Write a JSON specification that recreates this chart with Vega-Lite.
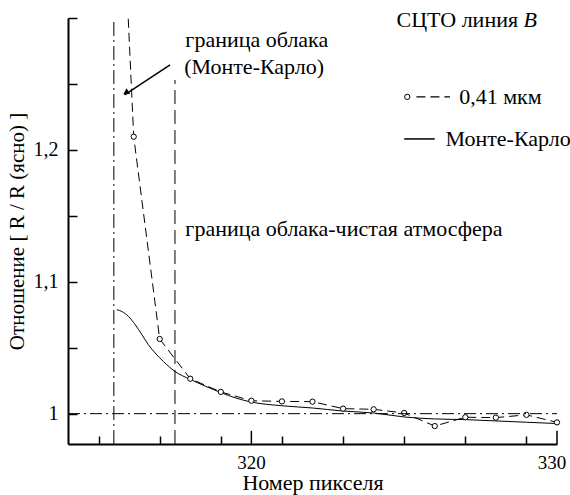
{
  "$schema": "https://vega.github.io/schema/vega-lite/v6.json",
  "width": 489,
  "height": 426,
  "autosize": {"type": "none"},
  "padding": {"left": 68, "top": 18, "right": 13, "bottom": 51},
  "background": "white",
  "view": {"stroke": null},
  "layer": [
    {
      "data": {"values": [
        {"x": 317.84, "y": 1.278, "t": "граница облака"},
        {"x": 317.8, "y": 1.2576, "t": "(Монте-Карло)"},
        {"x": 317.84, "y": 1.1348, "t": "граница облака-чистая атмосфера"},
        {"x": 324.75, "y": 1.2932, "t": "СЦТО линия"}
      ]},
      "mark": {"type": "text", "align": "left", "fontSize": 22, "font": "Times New Roman", "baseline": "alphabetic"},
      "encoding": {
        "x": {"field": "x", "type": "quantitative",
              "scale": {"domain": [314, 330], "nice": false, "zero": false},
              "axis": {"title": "Номер пикселя", "titlePadding": 28, "grid": false, "labels": false,
                       "domainColor": "black", "domainWidth": 2, "tickColor": "black", "tickWidth": 1.5,
                       "titleFont": "Times New Roman", "titleFontSize": 22, "titleFontWeight": "normal", "titleColor": "black",
                       "values": [315,316,317,318,319,320,321,322,323,324,325,326,327,328,329,330],
                       "tickSize": -8}},
        "y": {"field": "y", "type": "quantitative",
              "scale": {"domain": [0.977, 1.3], "nice": false, "zero": false},
              "axis": {"title": "Отношение [ R / R (ясно) ]", "titlePadding": 6, "grid": false,
                       "domainColor": "black", "domainWidth": 2, "tickColor": "black", "tickWidth": 1.5,
                       "labelFont": "Times New Roman", "labelFontSize": 20, "labelColor": "black",
                       "titleFont": "Times New Roman", "titleFontSize": 21, "titleFontWeight": "normal", "titleColor": "black",
                       "values": [1, 1.025, 1.05, 1.075, 1.1, 1.125, 1.15, 1.175, 1.2, 1.225, 1.25, 1.275, 1.3],
                       "labelExpr": "abs(datum.value - 1) < 1e-6 ? '1' : abs(datum.value - 1.1) < 1e-6 ? '1,1' : abs(datum.value - 1.2) < 1e-6 ? '1,2' : ''",
                       "tickSize": -9, "labelPadding": 19}},
        "text": {"field": "t"}
      }
    },
    {
      "data": {"values": [{"x": 320, "y": 0.9629, "t": "320"}]},
      "mark": {"type": "text", "align": "center", "baseline": "middle", "fontSize": 19, "font": "Times New Roman"},
      "encoding": {"x": {"field": "x", "type": "quantitative"}, "y": {"field": "y", "type": "quantitative"}, "text": {"field": "t"}}
    },
    {
      "data": {"values": [{"x": 330, "y": 0.9629, "t": "330"}]},
      "mark": {"type": "text", "align": "center", "baseline": "middle", "fontSize": 19, "font": "Times New Roman", "dx": -5},
      "encoding": {"x": {"field": "x", "type": "quantitative"}, "y": {"field": "y", "type": "quantitative"}, "text": {"field": "t"}}
    },
    {
      "data": {"values": [
        {"x": 315.6, "y": 1.0788}, {"x": 315.76, "y": 1.0775}, {"x": 315.98, "y": 1.0737},
        {"x": 316.2, "y": 1.0674}, {"x": 316.42, "y": 1.0598}, {"x": 316.63, "y": 1.0523},
        {"x": 316.85, "y": 1.046}, {"x": 317.12, "y": 1.0396}, {"x": 317.5, "y": 1.032},
        {"x": 318.0, "y": 1.026}, {"x": 318.5, "y": 1.0208}, {"x": 319.0, "y": 1.016},
        {"x": 319.5, "y": 1.0118}, {"x": 320, "y": 1.0088}, {"x": 321, "y": 1.006},
        {"x": 322, "y": 1.0043}, {"x": 323, "y": 1.002}, {"x": 324, "y": 1.0005},
        {"x": 325, "y": 0.9975}, {"x": 326, "y": 0.996}, {"x": 327, "y": 0.9955},
        {"x": 328, "y": 0.9945}, {"x": 329, "y": 0.9935}, {"x": 330, "y": 0.9925}
      ]},
      "mark": {"type": "line", "color": "black", "strokeWidth": 1, "interpolate": "monotone"},
      "encoding": {"x": {"field": "x", "type": "quantitative"}, "y": {"field": "y", "type": "quantitative"}}
    },
    {
      "data": {"values": [{"x": 320, "y": 0.977, "y2": 0.987}, {"x": 330, "y": 0.977, "y2": 0.987}]},
      "mark": {"type": "rule", "color": "black", "strokeWidth": 1.5},
      "encoding": {"x": {"field": "x", "type": "quantitative"}, "y": {"field": "y", "type": "quantitative"}, "y2": {"field": "y2"}}
    },
    {
      "data": {"values": [
        {"x": 315.95, "y": 1.31, "shown": false}, {"x": 316.15, "y": 1.21, "shown": true},
        {"x": 317, "y": 1.0566, "shown": true}, {"x": 318, "y": 1.0265, "shown": true},
        {"x": 319, "y": 1.0165, "shown": true}, {"x": 320, "y": 1.0098, "shown": true},
        {"x": 321, "y": 1.0093, "shown": true}, {"x": 322, "y": 1.0091, "shown": true},
        {"x": 323, "y": 1.0038, "shown": true}, {"x": 324, "y": 1.0033, "shown": true},
        {"x": 325, "y": 1.0005, "shown": true}, {"x": 326, "y": 0.9906, "shown": true},
        {"x": 327, "y": 0.9973, "shown": true}, {"x": 328, "y": 0.997, "shown": true},
        {"x": 329, "y": 0.9991, "shown": true}, {"x": 330, "y": 0.9934, "shown": true}
      ]},
      "layer": [
        {"mark": {"type": "line", "color": "black", "strokeWidth": 1, "strokeDash": [9, 5], "clip": true},
         "encoding": {"x": {"field": "x", "type": "quantitative"}, "y": {"field": "y", "type": "quantitative"}}},
        {"transform": [{"filter": "datum.shown"}],
         "mark": {"type": "point", "shape": "circle", "size": 28, "stroke": "black", "strokeWidth": 1, "fill": "white", "filled": true, "opacity": 1},
         "encoding": {"x": {"field": "x", "type": "quantitative"}, "y": {"field": "y", "type": "quantitative"}}}
      ]
    },
    {
      "data": {"values": [{"x": 314, "x2": 330, "y": 1}]},
      "mark": {"type": "rule", "color": "black", "strokeWidth": 1, "strokeDash": [12, 4, 2, 4]},
      "encoding": {"x": {"field": "x", "type": "quantitative"}, "x2": {"field": "x2"}, "y": {"field": "y", "type": "quantitative"}}
    },
    {
      "data": {"values": [{"x": 315.5, "y": 0.977, "y2": 1.3}]},
      "mark": {"type": "rule", "color": "black", "strokeWidth": 1, "strokeDash": [14, 4, 2, 4]},
      "encoding": {"x": {"field": "x", "type": "quantitative"}, "y": {"field": "y", "type": "quantitative"}, "y2": {"field": "y2"}}
    },
    {
      "data": {"values": [{"x": 317.5, "y": 0.977, "y2": 1.253}]},
      "mark": {"type": "rule", "color": "black", "strokeWidth": 1, "strokeDash": [14, 6]},
      "encoding": {"x": {"field": "x", "type": "quantitative"}, "y": {"field": "y", "type": "quantitative"}, "y2": {"field": "y2"}}
    },
    {
      "data": {"values": [{"x": 317.34, "y": 1.2644, "x2": 315.85, "y2": 1.2417}]},
      "mark": {"type": "rule", "color": "black", "strokeWidth": 1.5},
      "encoding": {"x": {"field": "x", "type": "quantitative"}, "y": {"field": "y", "type": "quantitative"}, "x2": {"field": "x2"}, "y2": {"field": "y2"}}
    },
    {
      "data": {"values": [{"x": 315.92, "y": 1.2438}]},
      "mark": {"type": "point", "shape": "triangle", "size": 45, "angle": 238, "filled": true, "color": "black", "opacity": 1},
      "encoding": {"x": {"field": "x", "type": "quantitative"}, "y": {"field": "y", "type": "quantitative"}}
    },
    {
      "data": {"values": [{"x": 328.9, "y": 1.2932, "t": "B"}]},
      "mark": {"type": "text", "align": "left", "baseline": "alphabetic", "fontSize": 22, "font": "Times New Roman", "fontStyle": "italic"},
      "encoding": {"x": {"field": "x", "type": "quantitative"}, "y": {"field": "y", "type": "quantitative"}, "text": {"field": "t"}}
    },
    {
      "data": {"values": [{"x": 325.1, "y": 1.2402}]},
      "mark": {"type": "point", "shape": "circle", "size": 28, "stroke": "black", "strokeWidth": 1, "fill": "white", "filled": true, "opacity": 1},
      "encoding": {"x": {"field": "x", "type": "quantitative"}, "y": {"field": "y", "type": "quantitative"}}
    },
    {
      "data": {"values": [{"x": 325.4, "x2": 326.5, "y": 1.2402}]},
      "mark": {"type": "rule", "color": "black", "strokeWidth": 1.2, "strokeDash": [9, 5]},
      "encoding": {"x": {"field": "x", "type": "quantitative"}, "x2": {"field": "x2"}, "y": {"field": "y", "type": "quantitative"}}
    },
    {
      "data": {"values": [{"x": 325.0, "x2": 326.0, "y": 1.2083}]},
      "mark": {"type": "rule", "color": "black", "strokeWidth": 1.5},
      "encoding": {"x": {"field": "x", "type": "quantitative"}, "x2": {"field": "x2"}, "y": {"field": "y", "type": "quantitative"}}
    },
    {
      "data": {"values": [
        {"x": 326.8, "y": 1.2402, "t": "0,41 мкм"},
        {"x": 326.35, "y": 1.2083, "t": "Монте-Карло"}
      ]},
      "mark": {"type": "text", "align": "left", "baseline": "middle", "fontSize": 22, "font": "Times New Roman"},
      "encoding": {"x": {"field": "x", "type": "quantitative"}, "y": {"field": "y", "type": "quantitative"}, "text": {"field": "t"}}
    }
  ]
}
